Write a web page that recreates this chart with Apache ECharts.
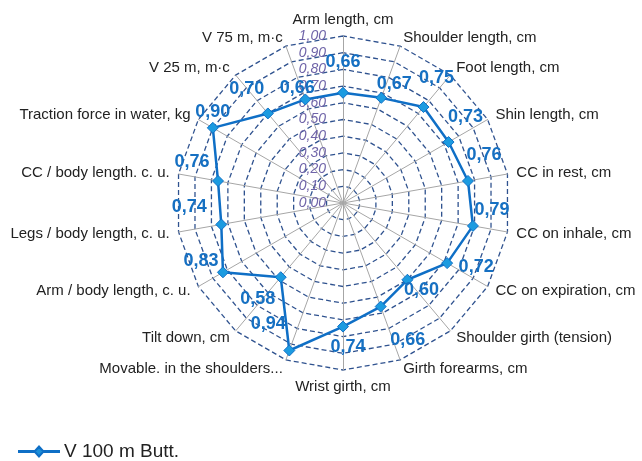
<!DOCTYPE html>
<html>
<head>
<meta charset="utf-8">
<script src="https://cdn.jsdelivr.net/npm/echarts@6/dist/echarts.min.js"></script>
<style>
  html, body { margin: 0; padding: 0; background: #fff; }
  #chart { width: 642px; height: 461px; }
</style>
</head>
<body>
<div id="chart"></div>
<script>
// categories, clockwise from the top
var categories = [
    'Arm length, cm', 'Shoulder length, cm', 'Foot length, cm', 'Shin length, cm',
    'CC in rest, cm', 'CC on inhale, cm', 'CC on expiration, cm', 'Shoulder girth (tension)',
    'Girth forearms, cm', 'Wrist girth, cm', 'Movable. in the shoulders...', 'Tilt down, cm',
    'Arm / body length, c. u.', 'Legs / body length, c. u.', 'CC / body length. c. u.',
    'Traction force in water, kg', 'V 25 m, m\u00b7c', 'V 75 m, m\u00b7c'
];
var values = [0.66, 0.67, 0.75, 0.73, 0.76, 0.79, 0.72, 0.60, 0.66, 0.74, 0.94, 0.58, 0.83, 0.74, 0.76, 0.90, 0.70, 0.66];
var seriesName = 'V 100 m Butt.';
var tickMax = 1;
var tickStep = 0.1;

// where each value label sits relative to its point (px)
var labelOffsets = [
    [0, -31], [13, -14], [13, -29], [17, -25], [16, -26], [19, -16], [29, 4], [14, 10], [27, 33],
    [5, 20], [-21, -26], [-23, 22], [-22, -11], [-32, -17], [-26, -19], [0, -16], [-21, -24], [-8, -11]
];

var fmt = function (v) { return Number(v).toFixed(2).replace('.', ','); };

// radar goes counter-clockwise, so reverse everything after the first one
var order = [0];
for (var i = categories.length - 1; i > 0; i--) order.push(i);

var center = [343, 203];
var radius = 167;
var lineColor = '#0F6FC6';

var chart = echarts.init(document.getElementById('chart'));
chart.setOption({
    animation: false,
    textStyle: { fontFamily: 'Liberation Sans' },
    legend: {
        left: 13,
        top: 437,
        itemWidth: 40,
        itemHeight: 10,
        itemGap: 4,
        icon: 'path://M0,4.4 L16,4.4 L20,0 L24,4.4 L40,4.4 L40,5.6 L24,5.6 L20,10 L16,5.6 L0,5.6 Z',
        textStyle: { fontSize: 19, color: '#222' },
        data: [{ name: seriesName, itemStyle: { color: '#1C8FD8' } }]
    },
    radar: {
        center: center,
        radius: radius,
        startAngle: 90,
        splitNumber: 10,
        shape: 'polygon',
        nameGap: 9,
        axisName: { color: '#222', fontSize: 15, fontFamily: 'Liberation Sans' },
        axisLine: { lineStyle: { color: '#A6A6A6', width: 1 } },
        splitLine: { lineStyle: { color: '#2F528F', width: 1.3, type: [5, 3] } },
        splitArea: { show: false },
        indicator: order.map(function (i) { return { name: categories[i], min: 0, max: tickMax }; })
    },
    polar: { center: center, radius: radius },
    angleAxis: {
        type: 'category',
        data: categories,
        startAngle: 90,
        boundaryGap: false,
        axisLine: { show: false },
        axisTick: { show: false },
        axisLabel: { show: false },
        splitLine: { show: false }
    },
    radiusAxis: {
        type: 'value',
        min: 0,
        max: tickMax,
        interval: tickStep,
        axisLine: { show: false },
        axisTick: { show: false },
        splitLine: { show: false },
        axisLabel: {
            formatter: fmt,
            fontStyle: 'italic',
            fontSize: 14,
            color: '#6F64A8',
            margin: 17
        },
        z: 1
    },
    series: [
        {
            name: seriesName,
            type: 'radar',
            symbol: 'diamond',
            symbolSize: 11,
            lineStyle: { color: lineColor, width: 2.5 },
            itemStyle: { color: '#1C9BE0', borderColor: lineColor, borderWidth: 1 },
            data: [{ name: seriesName, value: order.map(function (i) { return values[i]; }) }],
            z: 3
        },
        {
            type: 'scatter',
            coordinateSystem: 'polar',
            symbolSize: 0,
            silent: true,
            z: 4,
            itemStyle: { opacity: 1 },
            data: values.map(function (v, i) {
                return {
                    value: [v, categories[i]],
                    label: { offset: labelOffsets[i] }
                };
            }),
            label: {
                show: true,
                position: 'inside',
                formatter: function (p) { return fmt(p.value[0]); },
                fontSize: 18,
                fontWeight: 'bold',
                color: '#1670C2',
                opacity: 1
            }
        }
    ]
});
</script>
</body>
</html>
